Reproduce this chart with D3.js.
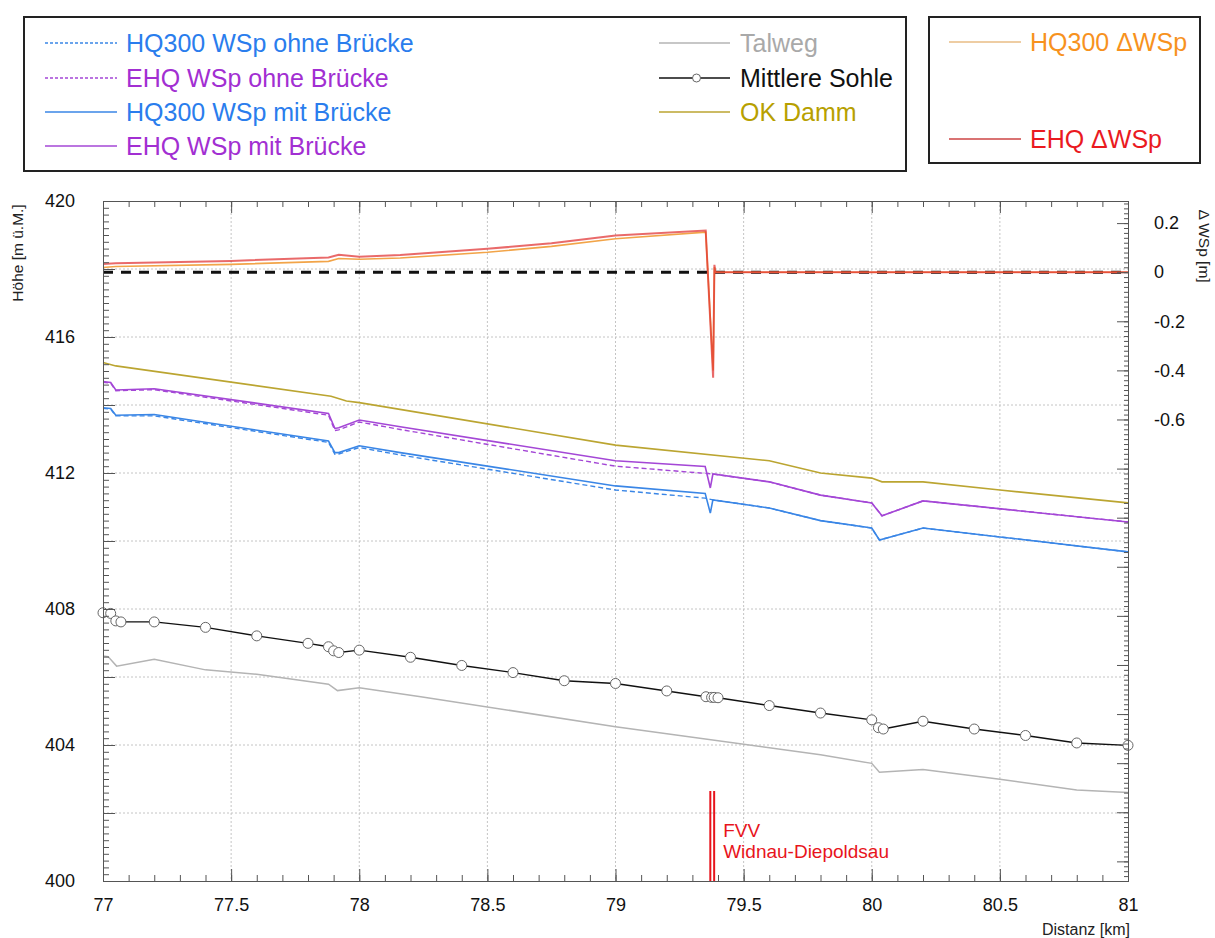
<!DOCTYPE html>
<html>
<head>
<meta charset="utf-8">
<script src="https://cdn.jsdelivr.net/npm/d3@7"></script>
<style>
  html, body { margin: 0; padding: 0; background: #fff; }
  svg { display: block; font-family: "Liberation Sans", Arial, Helvetica, sans-serif; }
</style>
</head>
<body>
<svg id="chart" width="1215" height="938"></svg>
<script>
// ---- Längenprofil Rhein km 77–81: Wasserspiegel, Sohle, Damm, ΔWSp ----

// Talweg [km, m ü.M.]
const talweg = [
  [77.0, 406.62], [77.02, 406.6], [77.053, 406.32], [77.2, 406.52], [77.4, 406.21],
  [77.6, 406.08], [77.88, 405.79], [77.915, 405.6], [78.0, 405.68], [78.24, 405.42],
  [79.0, 404.54], [79.8, 403.71], [80.0, 403.46], [80.03, 403.2], [80.2, 403.28],
  [80.5, 402.99], [80.8, 402.68], [81.0, 402.6]
];

// Mittlere Sohle (Querprofile) [km, m ü.M.]
const mittlereSohle = [
  [77.0, 407.89], [77.03, 407.87], [77.05, 407.65], [77.07, 407.62], [77.2, 407.62],
  [77.4, 407.46], [77.6, 407.21], [77.8, 406.99], [77.88, 406.89], [77.9, 406.77],
  [77.92, 406.72], [78.0, 406.79], [78.2, 406.58], [78.4, 406.34], [78.6, 406.13],
  [78.8, 405.89], [79.0, 405.81], [79.2, 405.59], [79.353, 405.42], [79.375, 405.4],
  [79.385, 405.4], [79.4, 405.39], [79.6, 405.16], [79.8, 404.94], [80.0, 404.74],
  [80.026, 404.51], [80.045, 404.47], [80.2, 404.7], [80.4, 404.47], [80.6, 404.28],
  [80.8, 404.06], [81.0, 403.99]
];

// Oberkante Damm [km, m ü.M.]
const okDamm = [
  [77.0, 415.25], [77.05, 415.15], [77.89, 414.26], [77.95, 414.12], [78.0, 414.07],
  [79.0, 412.82], [79.6, 412.36], [79.8, 412.0], [80.0, 411.85], [80.04, 411.74],
  [80.2, 411.74], [80.5, 411.5], [81.0, 411.12]
];

// HQ300 Wasserspiegel mit Brücke [km, m ü.M.]
const hq300Mit = [
  [77.0, 413.92], [77.03, 413.9], [77.05, 413.7], [77.2, 413.72], [77.88, 412.94],
  [77.905, 412.6], [77.92, 412.6], [78.0, 412.8], [78.16, 412.6], [79.0, 411.62],
  [79.35, 411.4], [79.37, 410.82], [79.38, 411.21], [79.6, 410.97], [79.8, 410.6],
  [80.0, 410.38], [80.03, 410.03], [80.2, 410.38], [80.5, 410.12], [81.0, 409.68]
];

// HQ300 Wasserspiegel ohne Brücke [km, m ü.M.]
const hq300Ohne = [
  [77.0, 413.9], [77.03, 413.88], [77.05, 413.68], [77.2, 413.68], [77.88, 412.9],
  [77.905, 412.55], [77.92, 412.56], [78.0, 412.75], [78.16, 412.53], [79.0, 411.5],
  [79.35, 411.26], [79.38, 411.21], [79.6, 410.97], [79.8, 410.6], [80.0, 410.38],
  [80.03, 410.03], [80.2, 410.38], [80.5, 410.12], [81.0, 409.68]
];

// EHQ Wasserspiegel mit Brücke [km, m ü.M.]
const ehqMit = [
  [77.0, 414.69], [77.03, 414.66], [77.05, 414.44], [77.2, 414.48], [77.88, 413.75],
  [77.905, 413.31], [77.92, 413.33], [78.0, 413.56], [78.16, 413.36], [79.0, 412.36],
  [79.35, 412.19], [79.37, 411.56], [79.38, 411.97], [79.6, 411.74], [79.8, 411.35],
  [80.0, 411.12], [80.04, 410.74], [80.2, 411.18], [81.0, 410.56]
];

// EHQ Wasserspiegel ohne Brücke [km, m ü.M.]
const ehqOhne = [
  [77.0, 414.67], [77.03, 414.64], [77.05, 414.42], [77.2, 414.45], [77.88, 413.7],
  [77.905, 413.25], [77.92, 413.27], [78.0, 413.5], [78.16, 413.28], [79.0, 412.2],
  [79.35, 411.99], [79.38, 411.97], [79.6, 411.74], [79.8, 411.35], [80.0, 411.12],
  [80.04, 410.74], [80.2, 411.18], [81.0, 410.56]
];

// Differenz Wasserspiegel mit/ohne Brücke [km, m]
const hq300Delta = [
  [77.0, 0.019], [77.05, 0.023], [77.5, 0.032], [77.88, 0.044], [77.92, 0.056],
  [78.0, 0.053], [78.16, 0.058], [78.5, 0.081], [78.75, 0.105], [79.0, 0.136],
  [79.352, 0.163], [79.381, -0.40], [79.386, 0.02], [79.39, 0.0], [81.0, 0.0]
];
const ehqDelta = [
  [77.0, 0.033], [77.05, 0.036], [77.5, 0.046], [77.88, 0.06], [77.92, 0.071],
  [78.0, 0.063], [78.16, 0.07], [78.5, 0.095], [78.75, 0.118], [79.0, 0.149],
  [79.352, 0.17], [79.381, -0.43], [79.386, 0.03], [79.39, 0.0], [81.0, 0.0]
];

// Brücke FVV Widnau-Diepoldsau [km]
const bridgeKm = [79.37, 79.385];
const bridgeLabel = ["FVV", "Widnau-Diepoldsau"];

// Achsen
const xTicks = [77, 77.5, 78, 78.5, 79, 79.5, 80, 80.5, 81];
const yLabelTicks = [400, 404, 408, 412, 416, 420];
const deltaLabelTicks = [0.2, 0, -0.2, -0.4, -0.6];

const colors = {
  hq300: "#3a86e6", hq300Text: "#2a7ded",
  ehq: "#a447d6", ehqText: "#a22fd2",
  talweg: "#b4b4b4", talwegText: "#a9a9a9",
  sohle: "#111", damm: "#bba531", dammText: "#b7a000",
  hqDelta: "#f2a448", hqDeltaLegend: "#e9bd85", hqDeltaText: "#f7921e",
  ehqDelta: "#e03030", ehqDeltaLegend: "#cc4444", ehqDeltaText: "#ea1a1f",
  grid: "#c4c4c4", axis: "#555"
};

const svg = d3.select("#chart");
const plotL = 103, plotR = 1128, plotT = 201, plotB = 881;

const x = d3.scaleLinear().domain([77, 81]).range([plotL, plotR]);
const y = d3.scaleLinear().domain([400, 420]).range([plotB, plotT]);
const yd = d3.scaleLinear().domain([-2.48, 0.29]).range([plotB, plotT]);

const line = d3.line().x(d => x(d[0])).y(d => y(d[1]));
const lineD = d3.line().x(d => x(d[0])).y(d => yd(d[1]));

// Gitter
const grid = svg.append("g");
grid.selectAll(".gx").data(d3.range(77.5, 80.6, 0.5)).join("line")
  .attr("x1", d => x(d)).attr("x2", d => x(d)).attr("y1", plotT).attr("y2", plotB)
  .attr("stroke", colors.grid).attr("stroke-dasharray", "2,2").attr("stroke-width", 1);
grid.selectAll(".gy").data(d3.range(402, 419, 2)).join("line")
  .attr("x1", plotL).attr("x2", plotR).attr("y1", d => y(d)).attr("y2", d => y(d))
  .attr("stroke", colors.grid).attr("stroke-dasharray", "2,2").attr("stroke-width", 1);

// Talweg
svg.append("path").datum(talweg).attr("d", line)
  .attr("fill", "none").attr("stroke", colors.talweg).attr("stroke-width", 1.5);

// Mittlere Sohle
svg.append("path").datum(mittlereSohle).attr("d", line)
  .attr("fill", "none").attr("stroke", colors.sohle).attr("stroke-width", 1.4);
svg.append("g").selectAll("circle").data(mittlereSohle).join("circle")
  .attr("cx", d => x(d[0])).attr("cy", d => y(d[1])).attr("r", 5)
  .attr("fill", "#fff").attr("stroke", "#666").attr("stroke-width", 1);

// OK Damm
svg.append("path").datum(okDamm).attr("d", line)
  .attr("fill", "none").attr("stroke", colors.damm).attr("stroke-width", 1.6);

// Wasserspiegel
svg.append("path").datum(hq300Mit).attr("d", line)
  .attr("fill", "none").attr("stroke", colors.hq300).attr("stroke-width", 1.6);
svg.append("path").datum(hq300Ohne).attr("d", line)
  .attr("fill", "none").attr("stroke", colors.hq300).attr("stroke-width", 1.4)
  .attr("stroke-dasharray", "5,3");
svg.append("path").datum(ehqMit).attr("d", line)
  .attr("fill", "none").attr("stroke", colors.ehq).attr("stroke-width", 1.6);
svg.append("path").datum(ehqOhne).attr("d", line)
  .attr("fill", "none").attr("stroke", colors.ehq).attr("stroke-width", 1.4)
  .attr("stroke-dasharray", "5,3");

// Nulllinie ΔWSp
svg.append("line").attr("x1", plotL).attr("x2", plotR)
  .attr("y1", yd(0)).attr("y2", yd(0))
  .attr("stroke", "#111").attr("stroke-width", 3).attr("stroke-dasharray", "10,8");

// ΔWSp
svg.append("path").datum(hq300Delta).attr("d", lineD)
  .attr("fill", "none").attr("stroke", colors.hqDelta).attr("stroke-width", 1.6);
svg.append("path").datum(ehqDelta).attr("d", lineD)
  .attr("fill", "none").attr("stroke", colors.ehqDelta).attr("stroke-width", 2)
  .attr("stroke-opacity", 0.72);

// Brücke
svg.append("g").selectAll("line").data(bridgeKm).join("line")
  .attr("x1", d => x(d)).attr("x2", d => x(d)).attr("y1", 791).attr("y2", plotB)
  .attr("stroke", "#e8141c").attr("stroke-width", 2);
svg.append("g").selectAll("text").data(bridgeLabel).join("text")
  .attr("x", x(bridgeKm[1]) + 9).attr("y", (d, i) => 837 + i * 21)
  .attr("font-size", 19).attr("fill", "#e8141c").text(d => d);

// Achsen
function styleAxis(g) {
  g.select(".domain").attr("stroke", colors.axis);
  g.selectAll(".tick line").attr("stroke", colors.axis);
  g.selectAll(".tick text").attr("fill", "#111").attr("font-size", 18)
    .attr("font-family", "Liberation Sans, Arial, sans-serif");
}
const minorX = d3.range(77, 81.001, 0.1).map(v => +v.toFixed(1));

svg.append("g").attr("transform", `translate(0,${plotB})`)
  .call(d3.axisBottom(x).tickValues(minorX).tickSize(-6).tickFormat(""))
  .call(styleAxis);
svg.append("g").attr("transform", `translate(0,${plotB})`)
  .call(d3.axisBottom(x).tickValues(xTicks).tickSize(-12).tickPadding(17)
    .tickFormat(d => String(d)))
  .call(styleAxis);
svg.append("g").attr("transform", `translate(0,${plotT})`)
  .call(d3.axisTop(x).tickValues(minorX).tickSize(-6).tickFormat(""))
  .call(styleAxis);
svg.append("g").attr("transform", `translate(0,${plotT})`)
  .call(d3.axisTop(x).tickValues(xTicks).tickSize(-12).tickFormat(""))
  .call(styleAxis);

const minorY = d3.range(400, 420.001, 0.2).map(v => +v.toFixed(1));
svg.append("g").attr("transform", `translate(${plotL},0)`)
  .call(d3.axisLeft(y).tickValues(minorY).tickSize(-6).tickFormat(""))
  .call(styleAxis);
svg.append("g").attr("transform", `translate(${plotL},0)`)
  .call(d3.axisLeft(y).tickValues(d3.range(400, 421, 2)).tickSize(-12).tickPadding(28)
    .tickFormat(d => yLabelTicks.includes(d) ? String(d) : ""))
  .call(styleAxis);

const minorD = d3.range(-2.48, 0.29, 0.02).map(v => +v.toFixed(2));
svg.append("g").attr("transform", `translate(${plotR},0)`)
  .call(d3.axisRight(yd).tickValues(minorD).tickSize(-4).tickFormat(""))
  .call(styleAxis);
svg.append("g").attr("transform", `translate(${plotR},0)`)
  .call(d3.axisRight(yd).tickValues(d3.range(-2.4, 0.3, 0.2).map(v => +v.toFixed(1)))
    .tickSize(-11).tickPadding(26)
    .tickFormat(d => deltaLabelTicks.includes(d) ? String(d) : ""))
  .call(styleAxis);

// Achsentitel
svg.append("text").attr("transform", "translate(23,253) rotate(-90)")
  .attr("text-anchor", "middle").attr("font-size", 15.5).attr("fill", "#222")
  .text("Höhe [m ü.M.]");
svg.append("text").attr("x", 1130).attr("y", 935)
  .attr("text-anchor", "end").attr("font-size", 16).attr("fill", "#222")
  .text("Distanz [km]");
svg.append("text").attr("transform", "translate(1199,246) rotate(90)")
  .attr("text-anchor", "middle").attr("font-size", 15.5).attr("fill", "#222")
  .text("Δ WSp [m]");

// Legenden
const leg = svg.append("g");
leg.append("rect").attr("x", 24).attr("y", 17).attr("width", 882).attr("height", 154)
  .attr("fill", "#fff").attr("stroke", "#222").attr("stroke-width", 2);
leg.append("rect").attr("x", 929).attr("y", 17).attr("width", 271).attr("height", 146)
  .attr("fill", "#fff").attr("stroke", "#222").attr("stroke-width", 2);

const legendItems = [
  { x0: 45, x1: 117, tx: 126, y: 43, stroke: colors.hq300, dash: "3,2", text: "HQ300 WSp ohne Brücke", tc: colors.hq300Text },
  { x0: 45, x1: 117, tx: 126, y: 78, stroke: colors.ehq, dash: "3,2", text: "EHQ WSp ohne Brücke", tc: colors.ehqText },
  { x0: 45, x1: 117, tx: 126, y: 112, stroke: colors.hq300, dash: null, text: "HQ300 WSp mit Brücke", tc: colors.hq300Text },
  { x0: 45, x1: 117, tx: 126, y: 146, stroke: colors.ehq, dash: null, text: "EHQ WSp mit Brücke", tc: colors.ehqText },
  { x0: 659, x1: 730, tx: 740, y: 43, stroke: colors.talweg, dash: null, text: "Talweg", tc: colors.talwegText },
  { x0: 659, x1: 730, tx: 740, y: 78, stroke: colors.sohle, dash: null, text: "Mittlere Sohle", tc: "#111", marker: true },
  { x0: 659, x1: 730, tx: 740, y: 112, stroke: colors.damm, dash: null, text: "OK Damm", tc: colors.dammText },
  { x0: 949, x1: 1021, tx: 1030, y: 42, stroke: colors.hqDeltaLegend, dash: null, text: "HQ300 ΔWSp", tc: colors.hqDeltaText },
  { x0: 949, x1: 1021, tx: 1030, y: 139, stroke: colors.ehqDeltaLegend, dash: null, text: "EHQ ΔWSp", tc: colors.ehqDeltaText }
];
const li = leg.selectAll(".li").data(legendItems).join("g");
li.append("line").attr("x1", d => d.x0).attr("x2", d => d.x1)
  .attr("y1", d => d.y).attr("y2", d => d.y)
  .attr("stroke", d => d.stroke).attr("stroke-width", 1.3)
  .attr("stroke-dasharray", d => d.dash);
li.filter(d => d.marker).append("circle")
  .attr("cx", d => (d.x0 + d.x1) / 2 + 2).attr("cy", d => d.y).attr("r", 4)
  .attr("fill", "#fff").attr("stroke", "#666");
li.append("text").attr("x", d => d.tx).attr("y", d => d.y).attr("dy", "0.35em")
  .attr("font-size", 25).attr("fill", d => d.tc).text(d => d.text);
</script>
</body>
</html>
